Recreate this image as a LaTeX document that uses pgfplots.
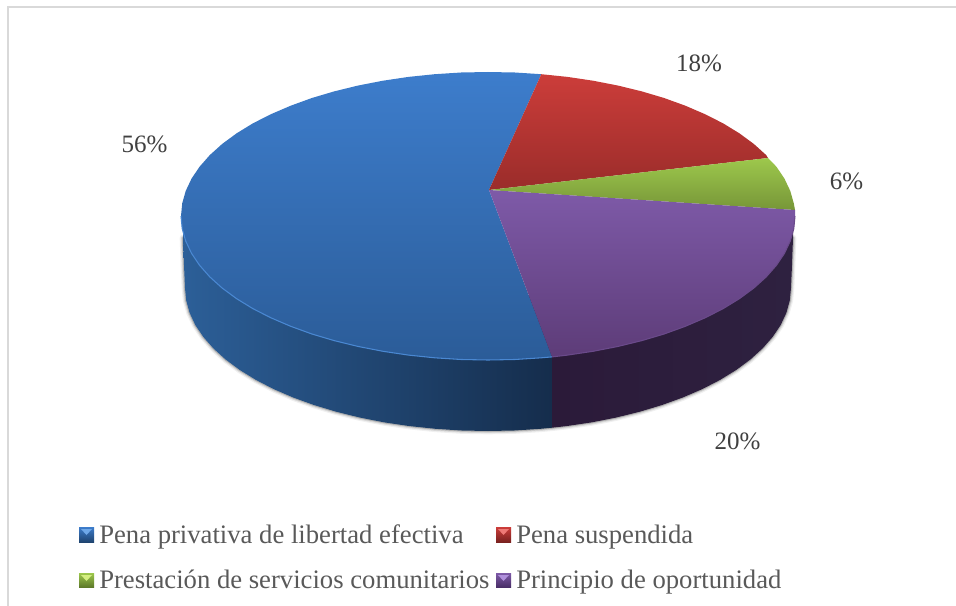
\documentclass[border=0pt]{standalone}
\usepackage{pgfplots}
\usepackage{pgfplotstable}
\pgfplotsset{compat=1.18}
\usepackage{fontspec}
\setmainfont{Liberation Serif}
\definecolor{lab}{HTML}{404040}
\definecolor{leg}{HTML}{595959}
\definecolor{edge}{HTML}{D9D9D9}
\definecolor{sideA}{HTML}{2C5F98}
\definecolor{sideB}{HTML}{1F4470}
\definecolor{sideC}{HTML}{152D4C}
\definecolor{sideD}{HTML}{2B1A39}
\definecolor{sideE}{HTML}{2E2140}
\definecolor{blueA}{HTML}{3D7DCC}
\definecolor{blueB}{HTML}{2B5C98}
\definecolor{blueL}{HTML}{6FA8E8}
\definecolor{redA}{HTML}{CC3D3A}
\definecolor{redB}{HTML}{9A2C2A}
\definecolor{redD}{HTML}{7A2220}
\definecolor{redL}{HTML}{EE7A76}
\definecolor{greenA}{HTML}{9DC84C}
\definecolor{greenB}{HTML}{779638}
\definecolor{greenD}{HTML}{5E7A2A}
\definecolor{greenL}{HTML}{D4EE80}
\definecolor{purpleA}{HTML}{7E5AA8}
\definecolor{purpleB}{HTML}{5D3C78}
\definecolor{purpleD}{HTML}{4A2F68}
\definecolor{purpleL}{HTML}{B090DC}
\definecolor{rimB}{HTML}{4A88D2}
\definecolor{rimP}{HTML}{6A4A8A}
% outer outline of the side wall, in picture pixels
\pgfplotstableread{
x y
183 238
184 265
185 288
186.2 300.5
189.6 312.8
195.3 325
203.3 336.9
213.4 348.4
225.6 359.5
239.8 370
255.9 379.9
273.7 389.1
293.2 397.5
314.2 405.1
336.5 411.8
360 417.6
384.4 422.4
409.6 426.1
435.4 428.8
461.6 430.5
488 431
514.4 430.5
540.6 428.8
552 427.7
566.4 426.1
591.6 422.4
616 417.6
639.5 411.8
661.8 405.1
682.8 397.5
702.3 389.1
720.1 379.9
736.2 370
750.4 359.5
762.6 348.4
772.7 336.9
780.7 325
786.4 312.8
789.8 300.5
791 288
792 265
793 238
}\sideoutline
\begin{document}
\begin{tikzpicture}
\path[use as bounding box] (0,0) rectangle (717pt,454.5pt);
\begin{axis}[
    at={(0,0)}, anchor=south west,
    scale only axis, width=717pt, height=454.5pt,
    xmin=0, xmax=956, ymin=0, ymax=606,
    y dir=reverse,
    hide axis, clip=false,
    every axis plot/.append style={no marks},
]

% chart frame
\addplot[edge, line width=1.2pt] coordinates {(8,606) (8,7) (956,7)};

% soft shadow round the side wall
\addplot[black, opacity=0.06, line width=5pt, line cap=round] table {\sideoutline};
\addplot[black, opacity=0.10, line width=3.2pt, line cap=round] table {\sideoutline};
\addplot[black, opacity=0.18, line width=1.6pt, line cap=round] table {\sideoutline};

% side wall, blue part
\addplot[draw=none, left color=sideA, middle color=sideB, right color=sideC] coordinates {
(183,225) (183,238) (184,265) (185,288) (186.2,300.5) (189.6,312.8) (195.3,325) (203.3,336.9) (213.4,348.4) (225.6,359.5) (239.8,370) (255.9,379.9) (273.7,389.1) (293.2,397.5) (314.2,405.1) (336.5,411.8) (360,417.6) (384.4,422.4) (409.6,426.1) (435.4,428.8) (461.6,430.5) (488,431) (514.4,430.5) (540.6,428.8) (552,427.7) (552,300)} -- cycle;
% side wall, purple part
\addplot[draw=none, left color=sideD, right color=sideE] coordinates {
(552,300) (552,427.7) (566.4,426.1) (591.6,422.4) (616,417.6) (639.5,411.8) (661.8,405.1) (682.8,397.5) (702.3,389.1) (720.1,379.9) (736.2,370) (750.4,359.5) (762.6,348.4) (772.7,336.9) (780.7,325) (786.4,312.8) (789.8,300.5) (791,288) (792,265) (793,238) (793,225)} -- cycle;

% pie top: blue slice
\addplot[draw=none, top color=blueA, bottom color=blueB] coordinates {
(489,190) (541.3,74.2) (514.8,72.5) (488,72) (461.2,72.5) (434.7,74.2) (408.5,76.9) (383,80.7) (358.3,85.5) (334.5,91.3) (311.9,98) (290.7,105.7) (270.9,114.2) (252.8,123.4) (236.5,133.4) (222.1,144) (209.8,155.1) (199.5,166.8) (191.5,178.7) (185.7,191) (182.2,203.4) (181,216)
(182.2,228.6) (185.7,241) (191.5,253.3) (199.5,265.2) (209.8,276.9) (222.1,288) (236.5,298.6) (252.8,308.6) (270.9,317.8) (290.7,326.3) (311.9,334) (334.5,340.7) (358.3,346.5) (383,351.3) (408.5,355.1) (434.7,357.8) (461.2,359.5) (488,360) (514.8,359.5) (541.3,357.8) (552,356.9)} -- cycle;
% red slice
\addplot[draw=none, top color=redA, bottom color=redB] coordinates {
(489,190) (541.3,74.2) (567.5,76.9) (593,80.7) (617.7,85.5) (641.5,91.3) (664.1,98) (685.3,105.7) (705.1,114.2) (723.2,123.4) (739.5,133.4) (753.9,144) (766.2,155.1) (768,158)} -- cycle;
% green slice
\addplot[draw=none, top color=greenA, bottom color=greenB] coordinates {
(489,190) (768,158) (776.5,166.8) (784.5,178.7) (790.3,191) (793.8,203.4) (795,210)} -- cycle;
% purple slice
\addplot[draw=none, top color=purpleA, bottom color=purpleB] coordinates {
(489,190) (795,210) (795,216) (793.8,228.6) (790.3,241) (784.5,253.3) (776.5,265.2) (766.2,276.9) (753.9,288) (739.5,298.6) (723.2,308.6) (705.1,317.8) (685.3,326.3) (664.1,334) (641.5,340.7) (617.7,346.5) (593,351.3) (567.5,355.1) (552,356.9)} -- cycle;

% light rim on the front of the top
\addplot[color=rimB, line width=0.8pt] coordinates {
(181,216) (182.2,228.6) (185.7,241) (191.5,253.3) (199.5,265.2) (209.8,276.9) (222.1,288) (236.5,298.6) (252.8,308.6) (270.9,317.8) (290.7,326.3) (311.9,334) (334.5,340.7) (358.3,346.5) (383,351.3) (408.5,355.1) (434.7,357.8) (461.2,359.5) (488,360) (514.8,359.5) (541.3,357.8) (552,356.9)};
\addplot[color=rimP, line width=0.8pt] coordinates {
(795,216) (793.8,228.6) (790.3,241) (784.5,253.3) (776.5,265.2) (766.2,276.9) (753.9,288) (739.5,298.6) (723.2,308.6) (705.1,317.8) (685.3,326.3) (664.1,334) (641.5,340.7) (617.7,346.5) (593,351.3) (567.5,355.1) (552,356.9)};

% legend swatches
\addplot[draw=none, top color=blueA, bottom color=sideB] coordinates {(79,527) (94,527) (94,542) (79,542)} -- cycle;
\addplot[draw=none, fill=blueL] coordinates {(81,529) (92,529) (86.5,535)} -- cycle;
\addplot[draw=none, top color=redA, bottom color=redD] coordinates {(496,527) (511,527) (511,542) (496,542)} -- cycle;
\addplot[draw=none, fill=redL] coordinates {(498,529) (509,529) (503.5,535)} -- cycle;
\addplot[draw=none, top color=greenA, bottom color=greenD] coordinates {(79,573) (94,573) (94,587) (79,587)} -- cycle;
\addplot[draw=none, fill=greenL] coordinates {(81,575) (92,575) (86.5,581)} -- cycle;
\addplot[draw=none, top color=purpleA, bottom color=purpleD] coordinates {(496,573) (511,573) (511,587) (496,587)} -- cycle;
\addplot[draw=none, fill=purpleL] coordinates {(498,575) (509,575) (503.5,581)} -- cycle;

% data labels
\node[anchor=base, text=lab, font=\fontsize{18.75pt}{22pt}\selectfont] at (axis cs:144.5,153) {56\%};
\node[anchor=base, text=lab, font=\fontsize{18.75pt}{22pt}\selectfont] at (axis cs:699,72) {18\%};
\node[anchor=base, text=lab, font=\fontsize{18.75pt}{22pt}\selectfont] at (axis cs:846.5,190) {6\%};
\node[anchor=base, text=lab, font=\fontsize{18.75pt}{22pt}\selectfont] at (axis cs:737.5,449) {20\%};

% legend text
\node[anchor=base west, inner sep=0pt, text=leg, font=\fontsize{20pt}{24pt}\selectfont] at (axis cs:99,543) {Pena privativa de libertad efectiva};
\node[anchor=base west, inner sep=0pt, text=leg, font=\fontsize{20pt}{24pt}\selectfont] at (axis cs:516,543) {Pena suspendida};
\node[anchor=base west, inner sep=0pt, text=leg, font=\fontsize{20pt}{24pt}\selectfont] at (axis cs:99,588) {Prestación de servicios comunitarios};
\node[anchor=base west, inner sep=0pt, text=leg, font=\fontsize{20pt}{24pt}\selectfont] at (axis cs:516,588) {Principio de oportunidad};
\end{axis}
\end{tikzpicture}
\end{document}
